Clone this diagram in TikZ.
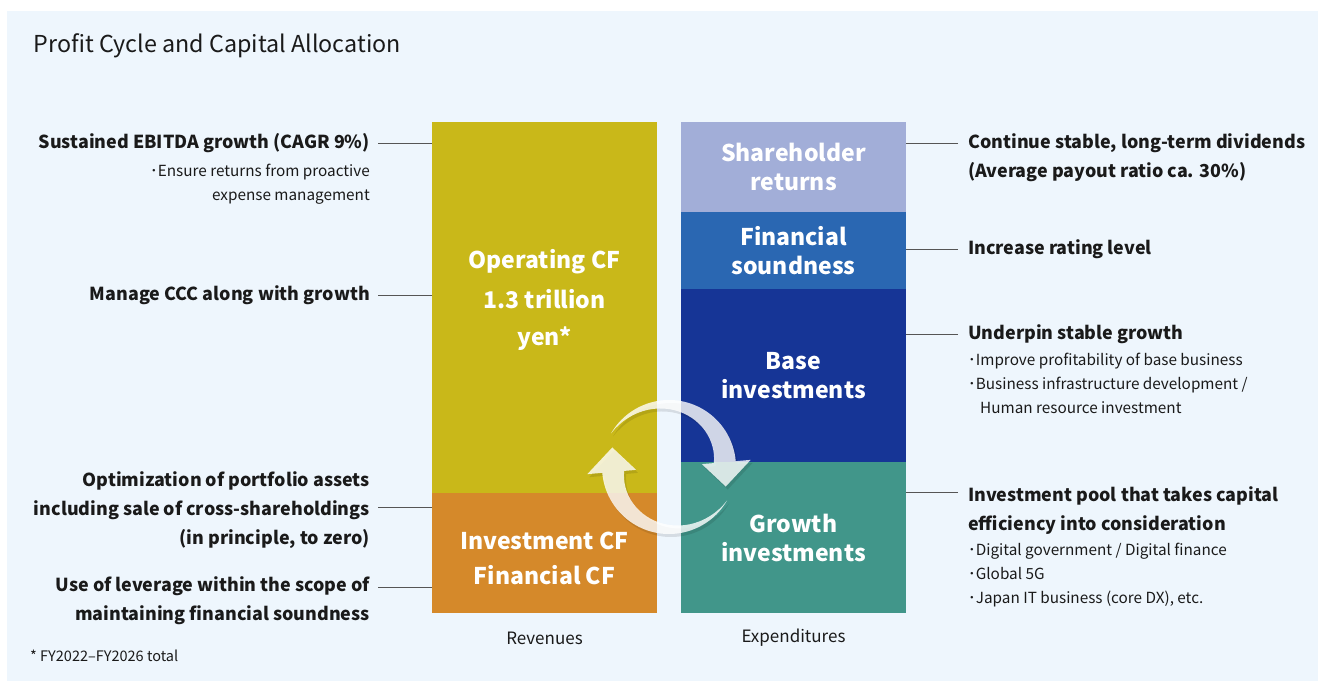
\documentclass[tikz,border=0pt]{standalone}
\usepackage{fontspec}
\setmainfont{Noto Sans CJK JP}
\usepackage{tikz}
\usetikzlibrary{calc, positioning}
\definecolor{panelBlue}{HTML}{EEF6FD}
\definecolor{opYellow}{HTML}{C9B819}
\definecolor{invOrange}{HTML}{D5892A}
\definecolor{shrLilac}{HTML}{A2AED8}
\definecolor{finBlue}{HTML}{2A67B2}
\definecolor{baseNavy}{HTML}{163596}
\definecolor{growTeal}{HTML}{41968A}
\definecolor{mainBlack}{HTML}{1A1A1A}
\definecolor{leaderGray}{HTML}{555555}

\newcommand{\cyclepath}{(150:67) arc[start angle=150, end angle=5, radius=67] -- (5:82) -- (-19:60) -- (5:33) -- (5:46) -- plot[domain=5:150, samples=30] (\x:{67-22*(150-\x)/145}) -- cycle}

\tikzset{
  block/.style={inner sep=0pt, minimum width=225pt, text=white, align=center,
    font=\bfseries\fontsize{23}{29}\selectfont},
  head/.style={inner sep=0pt, text=mainBlack, font=\bfseries\fontsize{17.9}{29}\selectfont},
  note/.style={inner sep=0pt, text=mainBlack, font=\fontsize{15.3}{24}\selectfont},
  leader/.style={leaderGray, line width=1pt}
}

\begin{document}
\begin{tikzpicture}[x=1pt, y=-1pt, >=stealth]
    \useasboundingbox (0,0) rectangle (1318,684);
    \fill[panelBlue] (7,11) rectangle (1318,681);

    \node[anchor=west, text=mainBlack, font=\fontsize{23.3}{26}\selectfont] (title) at (30,46) {Profit Cycle and Capital Allocation};

    % revenues
    \node[block, fill=opYellow, minimum height=371pt] (opcf) at (544.5,307.5) {};
    \node[block, fill=invOrange, minimum height=120pt] (invcf) at (544.5,553) {};
    \node[block, font=\bfseries\fontsize{23}{37}\selectfont] (optext) at (544.5,300) {Operating CF\\[3pt]1.3 trillion\\yen*};
    \node[block, font=\bfseries\fontsize{23}{35}\selectfont] (invtext) at (544.5,558.5) {Investment CF\\Financial CF};

    % expenditures
    \node[block, fill=shrLilac, minimum height=90pt] (shr) at (793.5,167) {Shareholder\\returns};
    \node[block, fill=finBlue, minimum height=77pt] (fin) at (793.5,250.5) {Financial\\soundness};
    \node[block, fill=baseNavy, minimum height=173pt] (base) at (793.5,375.5) {Base\\investments};
    \node[block, fill=growTeal, minimum height=151pt] (grow) at (793.5,537.5) {Growth\\investments};

    \node[note, font=\fontsize{17}{20}\selectfont] (rev) at (544.5,638) {Revenues};
    \node[note, font=\fontsize{17}{20}\selectfont] (exp) at (793.5,638) {Expenditures};

    % cycle arrows
    \begin{scope}[shift={(671,470)}, yscale=-1]
        \foreach \rot in {0,180}
            \fill[black, opacity=0.1, rotate=\rot] \cyclepath;
    \end{scope}
    \begin{scope}[shift={(669,467)}, yscale=-1]
        \foreach \rot in {0,180}
            \fill[white, fill opacity=0.8, rotate=\rot] \cyclepath;
    \end{scope}

    % left side
    \node[head, anchor=east] (ebitda) at (370,143.5) {Sustained EBITDA growth (CAGR 9\%)};
    \node[note, anchor=east, align=right] (ebitdasub) at (370,184) {･Ensure returns from proactive\\expense management};
    \node[head, anchor=east] (ccc) at (370,295.5) {Manage CCC along with growth};
    \node[head, anchor=east, align=right] (port) at (370,510.5) {Optimization of portfolio assets\\including sale of cross-shareholdings\\(in principle, to zero)};
    \node[head, anchor=east, align=right] (lev) at (370,600.5) {Use of leverage within the scope of\\maintaining financial soundness};

    \draw[leader] ([xshift=8pt]ebitda.east) -- (ebitda.east -| opcf.west);
    \draw[leader] ([xshift=8pt]ccc.east) -- (ccc.east -| opcf.west);
    \coordinate (portpt) at ([yshift=3pt]port.east);
    \draw[leader] ([xshift=8pt]portpt) -- (portpt -| invcf.west);
    \coordinate (levpt) at ([yshift=13pt]lev.east);
    \draw[leader] ([xshift=8pt]levpt) -- (levpt -| invcf.west);

    % right side
    \node[head, anchor=west, align=left] (div) at (968,158) {Continue stable, long-term dividends\\(Average payout ratio ca. 30\%)};
    \node[head, anchor=west] (rating) at (968,249.5) {Increase rating level};
    \node[head, anchor=west] (stable) at (968,334.5) {Underpin stable growth};
    \node[note, anchor=west, align=left] (stablesub) at (968,383) {･Improve profitability of base business\\･Business infrastructure development /\\\hspace*{12pt}Human resource investment};
    \node[head, anchor=west, align=left] (pool) at (968,511) {Investment pool that takes capital\\efficiency into consideration};
    \node[note, anchor=west, align=left] (poolsub) at (968,575) {･Digital government / Digital finance\\･Global 5G\\･Japan IT business (core DX), etc.};

    \coordinate (divpt) at ([yshift=14pt]div.west);
    \draw[leader] ([xshift=-10pt]divpt) -- (divpt -| shr.east);
    \draw[leader] ([xshift=-10pt]rating.west) -- (rating.west -| fin.east);
    \draw[leader] ([xshift=-10pt]stable.west) -- (stable.west -| base.east);
    \coordinate (poolpt) at ([yshift=18pt]pool.west);
    \draw[leader] ([xshift=-10pt]poolpt) -- (poolpt -| grow.east);

    \node[note, anchor=west, font=\fontsize{14.5}{20}\selectfont] (foot) at (30,656) {* FY2022–FY2026 total};
\end{tikzpicture}
\end{document}
